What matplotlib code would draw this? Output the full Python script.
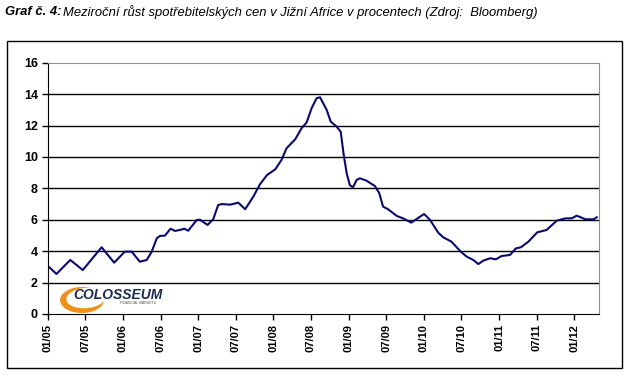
import matplotlib
matplotlib.use("Agg")
import matplotlib.pyplot as plt
from matplotlib.patches import Rectangle, Ellipse
import numpy as np

# months since January 2005
months = [0.27, 1.4, 3.6, 5.6, 8.6, 10.6, 12.3, 13.4, 14.7, 15.8, 16.6, 17.4, 17.9, 18.7,
          19.6, 20.3, 21.1, 21.8, 22.4, 23.8, 24.3, 25.5, 26.4, 27.2, 27.8, 29.1, 30.4,
          31.5, 32.8, 33.9, 35.0, 36.3, 37.3, 38.1, 39.5, 40.5, 41.3, 42.1, 42.9,
          43.45, 44.5, 45.15, 46.1, 46.75, 47.2, 47.7, 48.2, 48.7, 49.3, 49.8, 50.8, 52.2,
          52.9, 53.5, 54.3, 55.7, 56.7, 58.0, 60.05, 61.0, 62.3, 63.1, 64.4,
          65.9, 66.85, 67.9, 68.7, 69.5, 70.6, 71.5, 72.4, 73.75,
          74.7, 75.5, 76.7, 78.1, 79.6, 81.2, 82.6, 83.6, 84.4, 85.8, 87.1, 87.6]
cpi = [2.97, 2.55, 3.44, 2.8, 4.25, 3.27, 3.97, 3.97, 3.33, 3.44, 3.97, 4.82, 4.97, 4.99,
       5.43, 5.29, 5.35, 5.43, 5.3, 5.99, 6.0, 5.67, 6.03, 6.94, 7.0, 6.96, 7.09,
       6.67, 7.47, 8.28, 8.85, 9.21, 9.81, 10.55, 11.13, 11.83, 12.19, 13.1, 13.74,
       13.8, 13.0, 12.25, 11.93, 11.6, 10.2, 8.96, 8.2, 8.07, 8.54, 8.64, 8.5, 8.15,
       7.69, 6.84, 6.67, 6.24, 6.09, 5.82, 6.37, 5.99, 5.18, 4.88, 4.61,
       3.97, 3.65, 3.44, 3.18, 3.40, 3.55, 3.48, 3.69, 3.76,
       4.18, 4.25, 4.61, 5.2, 5.35, 5.94, 6.09, 6.09, 6.26, 6.03, 6.03, 6.16]
tick_months = list(range(0, 85, 6))
tick_labels = ["01/05", "07/05", "01/06", "07/06", "01/07", "07/07", "01/08", "07/08",
               "01/09", "07/09", "01/10", "07/10", "01/11", "07/11", "01/12"]
y_ticks = [0, 2, 4, 6, 8, 10, 12, 14, 16]

plt.rcParams['font.family'] = ['Liberation Sans', 'DejaVu Sans']

W, H = 627, 375
fig = plt.figure(figsize=(W / 100, H / 100), dpi=100)
fig.patch.set_facecolor("white")

# outer frame
fig.add_artist(Rectangle((7 / W, 1 - 368 / H), (622 - 7) / W, (368 - 41) / H,
                         transform=fig.transFigure, fill=False, edgecolor="black", lw=1.0))

# title
fig.text(5 / W, 1 - 12 / H, "Graf č. 4:", fontsize=9.4, fontweight="bold", style="italic",
         va="center", ha="left")
fig.text(63 / W, 1 - 12 / H,
         "Meziroční růst spotřebitelských cen v Jižní Africe v procentech (Zdroj:  Bloomberg)",
         fontsize=9.4, style="italic", va="center", ha="left")

left, right = 47.7 / W, 599.3 / W
bottom, top = 1 - 314 / H, 1 - 62.7 / H
ax = fig.add_axes([left, bottom, right - left, top - bottom])
ax.plot(months, cpi, color="#0a0a6e", lw=1.5, solid_joinstyle="round")
ax.set_xlim(0, 88)
ax.set_ylim(0, 16)
ax.set_yticks(y_ticks)
ax.set_yticklabels([str(v) for v in y_ticks], fontsize=9, fontweight="bold")
ax.set_xticks(tick_months)
ax.set_xticklabels(tick_labels, rotation=90, fontsize=8, fontweight="bold")
for v in y_ticks[1:-1]:
    ax.axhline(v, color="black", lw=1.0, zorder=0)
ax.spines["top"].set_color("#909090")
ax.spines["right"].set_color("#909090")
ax.spines["left"].set_color("black")
ax.spines["bottom"].set_color("black")
ax.tick_params(axis="both", direction="out", length=4, width=1, pad=3)

# logo: orange crescent made of two ellipses
fig.add_artist(Ellipse((82 / W, 1 - 300 / H), 44 / W, 26 / H, angle=20,
                       transform=fig.transFigure, facecolor="#f0901a", edgecolor="none"))
fig.add_artist(Ellipse((86 / W, 1 - 298 / H), 40 / W, 20 / H, angle=20,
                       transform=fig.transFigure, facecolor="white", edgecolor="none"))
fig.text(118 / W, 1 - 295 / H, "COLOSSEUM", fontsize=10, fontweight="bold", style="italic",
         color="#1c2b4f", ha="center", va="center")
fig.text(138 / W, 1 - 303.5 / H, "FINANCIAL MARKETS", fontsize=2.5, color="#555555",
         ha="center", va="center")

fig.savefig("out.png", dpi=100)
